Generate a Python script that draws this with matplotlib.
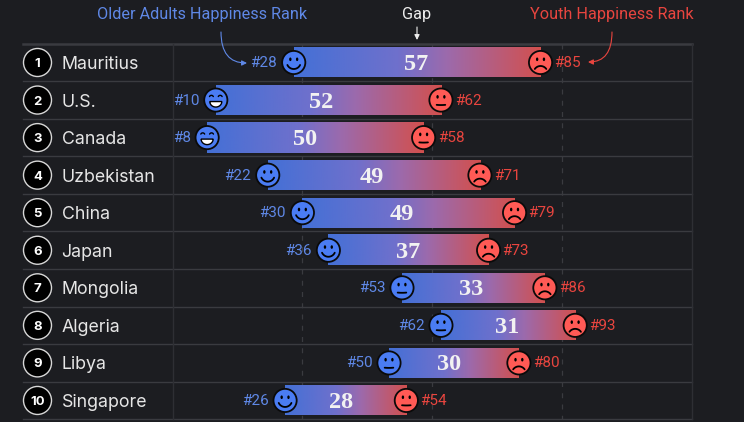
import numpy as np
import matplotlib
matplotlib.use('Agg')
import matplotlib.pyplot as plt
from matplotlib.colors import LinearSegmentedColormap
from matplotlib.patches import Ellipse, Polygon

countries = ['Mauritius', 'U.S.', 'Canada', 'Uzbekistan', 'China',
             'Japan', 'Mongolia', 'Algeria', 'Libya', 'Singapore']
older_rank = [28, 10, 8, 22, 30, 36, 53, 62, 50, 26]
youth_rank = [85, 62, 58, 71, 79, 73, 86, 93, 80, 54]
gap = [57, 52, 50, 49, 49, 37, 33, 31, 30, 28]
older_face = ['smile', 'grin', 'grin', 'smile', 'smile',
              'smile', 'neutral', 'neutral', 'neutral', 'smile']
youth_face = ['frown', 'neutral', 'neutral', 'frown', 'frown',
              'frown', 'frown', 'frown', 'frown', 'neutral']
grid_ranks = [30, 60, 90]

BG = '#1c1d21'
LINE = '#3a3b40'
BLUE = '#4a7cf3'
RED = '#ff5a55'
BLUE_TXT = '#5f88e6'
RED_TXT = '#e8453f'

PX_X = 4.33    # pixels per rank
PX_Y = 37.55   # pixels per row
X0 = 172.5
Y0 = 62.5

# the gap numbers are not quite centred on their bars in the original
GAP_SHIFT = [-1, -7.5, -10, -2, -7, 0, -2, -1, -5, -5]

grad = LinearSegmentedColormap.from_list(
    'gap', [(0, '#4470d6'), (0.42, '#6f70cc'), (0.62, '#9c6aac'), (1, '#d2504e')])
ramp = np.linspace(0, 1, 256).reshape(1, -1)


def off(rank, row, dx=0.0, dy=0.0):
    '''data position shifted by an offset given in pixels'''
    return rank + dx / PX_X, row + dy / PX_Y


def px(x, y):
    '''data position of a picture pixel, for the callouts'''
    return (x - X0) / PX_X, (y - Y0) / PX_Y


def blob(ax, rank, row, dx, dy, rx, ry, **kw):
    x, y = off(rank, row, dx, dy)
    ax.add_patch(Ellipse((x, y), 2 * rx / PX_X, 2 * ry / PX_Y, **kw))


def curve(ax, rank, row, cx, cy, r, a0, a1, lw=1.5, zorder=6):
    t = np.radians(np.linspace(a0, a1, 30))
    x, y = off(rank, row, cx + r * np.cos(t), cy + r * np.sin(t))
    ax.plot(x, y, color='black', lw=lw, solid_capstyle='round', zorder=zorder)


def draw_face(ax, rank, row, kind, color):
    blob(ax, rank, row, 0, 0, 11.6, 11.6, fc=color, ec='#0a0a0a', lw=1.3, zorder=5)
    if kind == 'grin':
        for s in (-1, 1):
            curve(ax, rank, row, s * 4.4, -2.6, 2.1, 205, 335, lw=1.0)
        t = np.radians(np.linspace(0, 180, 30))
        x, y = off(rank, row, 6 * np.cos(t), 1.5 + 5.5 * np.sin(t))
        ax.add_patch(Polygon(np.column_stack([x, y]), fc='white', ec='black',
                             lw=1.0, zorder=6))
        return
    for s in (-1, 1):
        blob(ax, rank, row, s * 3.4, -3.2, 1.2, 1.8, fc='black', ec='none', zorder=6)
    if kind == 'smile':
        curve(ax, rank, row, 0, -0.5, 7, 25, 155, lw=1.3)
    elif kind == 'frown':
        curve(ax, rank, row, 0, 10.5, 7, 215, 325, lw=1.3)
    else:
        curve(ax, rank, row, 0, -40, 45, 84.5, 95.5, lw=1.3)


fig = plt.figure(figsize=(7.44, 4.22), dpi=100, facecolor=BG)
ax = fig.add_axes([0, 0, 1, 1], facecolor=BG)
ax.axis('off')

# grid
for i in range(11):
    lw = 1.8 if i == 0 else 1.0
    ax.plot(*zip(px(23, Y0 - PX_Y / 2 + i * PX_Y), px(692, Y0 - PX_Y / 2 + i * PX_Y)),
            color=LINE, lw=lw, zorder=1)
top, bottom = -0.5, 9.5
ax.plot([0, 0], [top, bottom], color='#2e2f34', lw=1, zorder=1)
ax.plot([(692 - X0) / PX_X] * 2, [top, bottom], color='#2e2f34', lw=1, zorder=1)
for r in grid_ranks:
    ax.plot([r, r], [top, bottom], color='#3a3b40', lw=0.9, ls=(0, (4, 5)), zorder=1)

for i, name in enumerate(countries):
    o, y = older_rank[i], youth_rank[i]
    ax.imshow(ramp, cmap=grad, aspect='auto', zorder=3,
              extent=(o, y, i + 15 / PX_Y, i - 15 / PX_Y))
    draw_face(ax, o, i, older_face[i], BLUE)
    draw_face(ax, y, i, youth_face[i], RED)

    ax.text(*off(o, i, -16.5, 0.5), f'#{o}', color=BLUE_TXT, ha='right', va='center',
            family='Roboto', fontsize=11, zorder=6)
    ax.text(*off(y, i, 14, 0.5), f'#{y}', color=RED_TXT, ha='left', va='center',
            family='Roboto', fontsize=11, zorder=6)
    ax.text(*off((o + y) / 2, i, GAP_SHIFT[i], -0.5), str(gap[i]), color='#f2f2f2',
            ha='center', va='center_baseline',
            family='Liberation Serif', weight='bold', fontsize=17.5, zorder=6)

    cx, cy = px(37.5, Y0 + i * PX_Y)
    ax.add_patch(Ellipse((cx, cy), 2 * 14 / PX_X, 2 * 14 / PX_Y, fc='black',
                         ec='#d8d8d8', lw=1.0, zorder=4))
    ax.text(cx, cy, str(i + 1), color='white', ha='center', va='center_baseline',
            family='Inter', weight='bold', fontsize=9.5, zorder=6)
    ax.text(*px(61.5, Y0 + i * PX_Y), name, color='#e6e6e6', ha='left', va='center_baseline',
            family='Inter', fontsize=12.8, zorder=6)

# headers
ax.text(*px(202.5, 14), 'Older Adults Happiness Rank', color=BLUE_TXT, ha='center',
        va='center', family='Roboto', fontsize=11.7)
ax.text(*px(416.5, 14), 'Gap', color='#eeeeee', ha='center', va='center',
        family='Roboto', fontsize=11.7)
ax.text(*px(611.5, 14), 'Youth Happiness Rank', color=RED_TXT, ha='center',
        va='center', family='Roboto', fontsize=11.7)

head = '-|>,head_width=0.15,head_length=0.3'
ax.annotate('', xy=px(247, 63), xytext=px(221, 32),
            arrowprops=dict(arrowstyle=head, color=BLUE_TXT, lw=0.8,
                            connectionstyle='angle3,angleA=-90,angleB=0',
                            shrinkA=0, shrinkB=0))
ax.annotate('', xy=px(588, 62), xytext=px(612, 32),
            arrowprops=dict(arrowstyle=head, color=RED_TXT, lw=0.8,
                            connectionstyle='angle3,angleA=-90,angleB=0',
                            shrinkA=0, shrinkB=0))
ax.annotate('', xy=px(417, 40), xytext=px(417, 27),
            arrowprops=dict(arrowstyle=head, color='#eeeeee', lw=0.8, shrinkA=0, shrinkB=0))

ax.set_xlim(-X0 / PX_X, (744 - X0) / PX_X)
ax.set_ylim((422 - Y0) / PX_Y, -Y0 / PX_Y)

fig.savefig('out.png', dpi=100, facecolor=BG)
